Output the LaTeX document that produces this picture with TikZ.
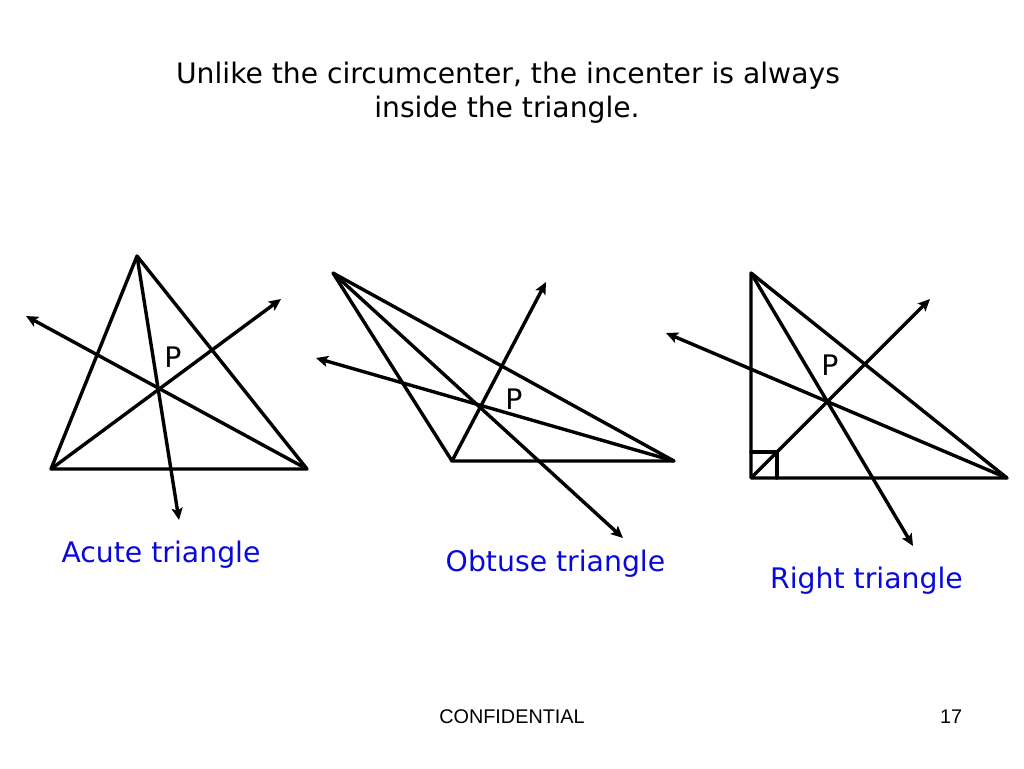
\documentclass[tikz,border=0pt]{standalone}
\usepackage{fontspec}
\setmainfont{DejaVu Sans}
\newfontfamily\arialf{Liberation Sans}
\usetikzlibrary{arrows.meta}
\definecolor{lblue}{RGB}{8,8,220}
\tikzset{
 ln/.style={line width=3.4pt,black,line cap=round,line join=round},
 ar/.style={ln,-{Stealth[length=12pt,width=11pt,inset=2.5pt]},line cap=butt},
 ttl/.style={font=\fontsize{28.2pt}{34pt}\selectfont,text=black,inner sep=0pt,anchor=center},
 lab/.style={font=\fontsize{28.3pt}{34pt}\selectfont,text=lblue,inner sep=0pt,anchor=center},
 pp/.style={font=\fontsize{28.3pt}{34pt}\selectfont,text=black,inner sep=0pt,anchor=center},
 foot/.style={font=\arialf\fontsize{19.8pt}{24pt}\selectfont,text=black,inner sep=0pt,anchor=center}
}
\begin{document}
\begin{tikzpicture}[x=1pt,y=-1pt]
\useasboundingbox (0,0) rectangle (1024,768);
\node[ttl] (t1) at (508,76) {Unlike the circumcenter, the incenter is always};
\node[ttl] (t2) at (507,110) {inside the triangle.};
% acute
\coordinate (a1) at (137,256);\coordinate (a2) at (51,469);\coordinate (a3) at (307,469);
\coordinate (ae1) at (179,520);\coordinate (ae2) at (26,316);\coordinate (ae3) at (281,299);
\draw[ln] (a1)--(a2)--(a3)--cycle;
\draw[ar] (a1)--(ae1);\draw[ar] (a3)--(ae2);\draw[ar] (a2)--(ae3);
\node[pp] (p1) at (173,357) {P};
\node[lab] (l1) at (161,555) {Acute triangle};
% obtuse
\coordinate (b1) at (333,273);\coordinate (b2) at (452,461);\coordinate (b3) at (674,461);
\coordinate (be1) at (623,538);\coordinate (be2) at (316,358);\coordinate (be3) at (546,282);
\draw[ln] (b1)--(b2)--(b3)--cycle;
\draw[ar] (b1)--(be1);\draw[ar] (b3)--(be2);\draw[ar] (b2)--(be3);
\node[pp] (p2) at (514,399) {P};
\node[lab] (l2) at (555.5,564) {Obtuse triangle};
% right
\coordinate (c1) at (751,273);\coordinate (c2) at (751,478);\coordinate (c3) at (1007,478);
\coordinate (ce1) at (913,546);\coordinate (ce2) at (666,333);\coordinate (ce3) at (930,299);
\draw[ln] (c1)--(c2)--(c3)--cycle;
\draw[ar] (c1)--(ce1);\draw[ar] (c3)--(ce2);\draw[ar] (c2)--(ce3);
\draw[ln] (751,452) -- (777,452) -- (777,478);
\node[pp] (p3) at (830,365) {P};
\node[lab] (l3) at (866.5,581) {Right triangle};
\node[foot] (f1) at (512,717) {CONFIDENTIAL};
\node[foot] (f2) at (951,717) {17};
\end{tikzpicture}
\end{document}
